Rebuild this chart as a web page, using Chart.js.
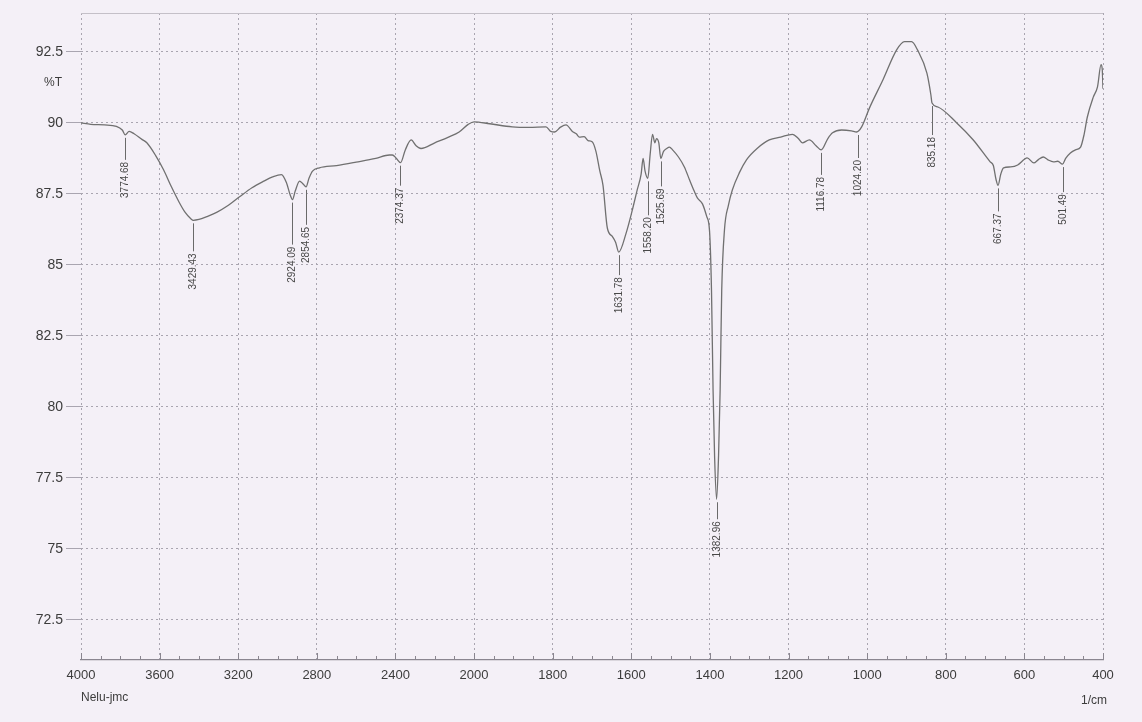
<!DOCTYPE html>
<html>
<head>
<meta charset="utf-8">
<title>FTIR %T</title>
<script src="https://cdn.jsdelivr.net/npm/chart.js@4.4.0/dist/chart.umd.min.js"></script>
<style>
    html, body { margin: 0; padding: 0; background: #f4f0f7; }
    #wrap { width: 1142px; height: 722px; }
</style>
</head>
<body>
<div id="wrap"><canvas id="myChart" width="1142" height="722"></canvas></div>
<script>
// spectrum: wavenumber (1/cm) and %T
const wavenumbers = [
    4000, 3950, 3880, 3820, 3790, 3775, 3755, 3730, 3690, 3665,
    3620, 3580, 3540, 3500, 3470, 3440, 3429, 3400, 3360, 3310,
    3250, 3193, 3130, 3070, 3025, 2980, 2955, 2935, 2924, 2910,
    2888, 2870, 2855, 2840, 2822, 2787, 2700, 2600, 2500, 2431,
    2416, 2395, 2374, 2350, 2320, 2295, 2270, 2200, 2130, 2076,
    2030, 2000, 1960, 1903, 1860, 1817, 1805, 1795, 1780, 1766,
    1750, 1740, 1732, 1720, 1710, 1699, 1690, 1680, 1672, 1661,
    1648, 1640, 1632, 1613, 1598, 1585, 1575, 1570, 1565, 1558,
    1552, 1546, 1540, 1536, 1530, 1525, 1518, 1510, 1503, 1495,
    1480, 1465, 1452, 1440, 1432, 1419, 1408, 1401, 1396, 1392,
    1388, 1383, 1378, 1374, 1370, 1363, 1353, 1343, 1325, 1307,
    1280, 1249, 1220, 1190, 1175, 1165, 1147, 1130, 1117, 1100,
    1088, 1065, 1040, 1027, 1014, 994, 960, 925, 905, 887,
    872, 848, 838, 835, 820, 772, 730, 687, 679, 672,
    667, 660, 653, 635, 617, 600, 593, 576, 565, 552,
    540, 526, 515, 503, 495, 483, 470, 457, 448, 440,
    425, 414, 405, 402, 400
];
const transmittance = [
    90.0, 89.95, 89.93, 89.88, 89.75, 89.58, 89.7, 89.62, 89.42, 89.3,
    88.85, 88.35, 87.75, 87.2, 86.85, 86.62, 86.57, 86.6, 86.7, 86.85,
    87.1, 87.4, 87.72, 87.95, 88.1, 88.18, 87.9, 87.45, 87.3, 87.6,
    87.95, 87.85, 87.75, 88.05, 88.3, 88.42, 88.5, 88.62, 88.75, 88.87,
    88.87, 88.75, 88.6, 89.05, 89.4, 89.2, 89.1, 89.3, 89.5, 89.68,
    89.95, 90.04, 89.97, 89.86, 89.84, 89.86, 89.7, 89.68, 89.85, 89.93,
    89.7, 89.62, 89.5, 89.52, 89.38, 89.33, 89.0, 88.3, 87.8, 86.3,
    86.0, 85.8, 85.45, 86.13, 86.9, 87.64, 88.2, 88.75, 88.3, 88.05,
    88.9, 89.6, 89.3, 89.45, 89.3, 88.75, 89.0, 89.1, 89.15, 89.05,
    88.8, 88.45, 88.0, 87.6, 87.36, 87.15, 86.7, 86.2, 84.1, 80.6,
    78.2, 76.75, 78.3, 80.6, 84.1, 86.23, 87.1, 87.64, 88.25, 88.7,
    89.1, 89.4, 89.5, 89.6, 89.45, 89.3, 89.4, 89.2, 89.05, 89.45,
    89.65, 89.75, 89.72, 89.68, 89.86, 90.53, 91.51, 92.57, 92.86, 92.86,
    92.57, 91.75, 91.0, 90.7, 90.56, 90.0, 89.4, 88.63, 88.5, 88.0,
    87.8, 88.2, 88.42, 88.45, 88.52, 88.72, 88.77, 88.59, 88.7, 88.8,
    88.7, 88.63, 88.65, 88.55, 88.75, 88.94, 89.05, 89.15, 89.6, 90.2,
    90.9, 91.27, 92.05, 91.9, 91.2
];

// peak picks printed on the scan
const peakWn = [3774.68, 3429.43, 2924.09, 2854.65, 2374.37, 1631.78, 1558.20,
                1525.69, 1382.96, 1116.78, 1024.20, 835.18, 667.37, 501.49];
const peakT = [89.58, 86.57, 87.3, 87.75, 88.6, 85.45, 88.05,
               88.75, 76.75, 89.05, 89.68, 90.7, 87.8, 88.55];

const xTickLabels = [4000, 3600, 3200, 2800, 2400, 2000, 1800, 1600, 1400, 1200, 1000, 800, 600, 400];
const yTickLabels = [72.5, 75, 77.5, 80, 82.5, 85, 87.5, 90, 92.5];

// instrument plots 4000-2000 at half the scale of 2000-400
function toAxis(wn) {
    return wn > 2000 ? 2000 + (wn - 2000) / 2 : wn;
}
function fromAxis(u) {
    return u > 2000 ? 2000 + (u - 2000) * 2 : u;
}

const points = wavenumbers.map((wn, i) => ({ x: toAxis(wn), y: transmittance[i] }));

const gridColor = '#a9a5b0';
const textColor = '#3c3c3c';

// distance (px) from the dip down to the top of each printed label
const labelDrop = [27, 33, 47, 40, 25, 25, 39, 30, 22, 27, 28, 34, 28, 30];

const peakLabels = {
    id: 'peakLabels',
    afterDatasetsDraw(chart) {
        const ctx = chart.ctx;
        const xs = chart.scales.x, ys = chart.scales.y;
        ctx.save();
        ctx.strokeStyle = '#6a6a6a';
        ctx.lineWidth = 1;
        ctx.fillStyle = '#484848';
        ctx.font = '10px "Liberation Sans", Arial, sans-serif';
        ctx.textAlign = 'right';
        ctx.textBaseline = 'middle';
        peakWn.forEach((wn, i) => {
            const px = Math.round(xs.getPixelForValue(toAxis(wn))) + 0.5;
            const py = ys.getPixelForValue(peakT[i]);
            const top = py + labelDrop[i];
            ctx.beginPath();
            ctx.moveTo(px, py + 3);
            ctx.lineTo(px, top - 2);
            ctx.stroke();
            ctx.save();
            ctx.translate(px, top);
            ctx.rotate(-Math.PI / 2);
            ctx.fillText(wn.toFixed(2), 0, 0);
            ctx.restore();
        });
        ctx.restore();
    }
};

const extras = {
    id: 'extras',
    afterDraw(chart) {
        const ctx = chart.ctx;
        const area = chart.chartArea;
        const xs = chart.scales.x, ys = chart.scales.y;
        ctx.save();
        // minor ticks along the bottom axis
        ctx.strokeStyle = '#8a8690';
        ctx.lineWidth = 1;
        for (let u = 400; u <= 3000; u += 50) {
            const px = Math.round(xs.getPixelForValue(u)) + 0.5;
            ctx.beginPath();
            ctx.moveTo(px, area.bottom);
            ctx.lineTo(px, area.bottom - (u % 200 === 0 ? 7 : 4));
            ctx.stroke();
        }
        // top frame line
        ctx.strokeStyle = '#c4c0c8';
        ctx.beginPath();
        ctx.moveTo(area.left, area.top + 0.5);
        ctx.lineTo(area.right, area.top + 0.5);
        ctx.stroke();

        ctx.fillStyle = textColor;
        ctx.font = '12px "Liberation Sans", Arial, sans-serif';
        ctx.textBaseline = 'middle';
        ctx.textAlign = 'right';
        ctx.fillText('%T', area.left - 19, ys.getPixelForValue(91.4));
        ctx.textAlign = 'left';
        ctx.fillText('Nelu-jmc', area.left, 698);
        ctx.textAlign = 'right';
        ctx.fillText('1/cm', area.right + 4, 701);
        ctx.restore();
    }
};

const ctx = document.getElementById('myChart').getContext('2d');
const myChart = new Chart(ctx, {
    type: 'line',
    data: {
        datasets: [{
            label: '%T',
            data: points,
            borderColor: '#707070',
            borderWidth: 1.3,
            pointRadius: 0,
            cubicInterpolationMode: 'monotone',
            fill: false
        }]
    },
    options: {
        responsive: false,
        devicePixelRatio: 1,
        animation: false,
        layout: { padding: { left: 10, right: 39, top: 13, bottom: 10 } },
        plugins: {
            legend: { display: false },
            tooltip: { enabled: false }
        },
        scales: {
            x: {
                type: 'linear',
                reverse: true,
                min: 400,
                max: 3000,
                afterBuildTicks: (scale) => {
                    scale.ticks = xTickLabels.map(v => ({ value: toAxis(v) }));
                },
                afterFit: (scale) => { scale.height = 52; },
                ticks: {
                    color: textColor,
                    font: { family: '"Liberation Sans", Arial, sans-serif', size: 13 },
                    padding: 8,
                    maxRotation: 0,
                    callback: (v) => String(Math.round(fromAxis(v)))
                },
                grid: {
                    color: gridColor,
                    lineWidth: 1,
                    drawTicks: false
                },
                border: { display: true, color: '#8a8690', width: 1.2, dash: [2, 3] }
            },
            y: {
                min: 71.09,
                max: 93.87,
                afterBuildTicks: (scale) => {
                    scale.ticks = yTickLabels.map(v => ({ value: v }));
                },
                afterFit: (scale) => { scale.width = 71; },
                ticks: {
                    color: textColor,
                    font: { family: '"Liberation Sans", Arial, sans-serif', size: 14 },
                    padding: 3,
                    callback: (v) => String(v)
                },
                grid: {
                    color: gridColor,
                    lineWidth: 1,
                    tickLength: 15
                },
                border: { display: false, dash: [2, 3] }
            }
        }
    },
    plugins: [peakLabels, extras]
});
</script>
</body>
</html>
